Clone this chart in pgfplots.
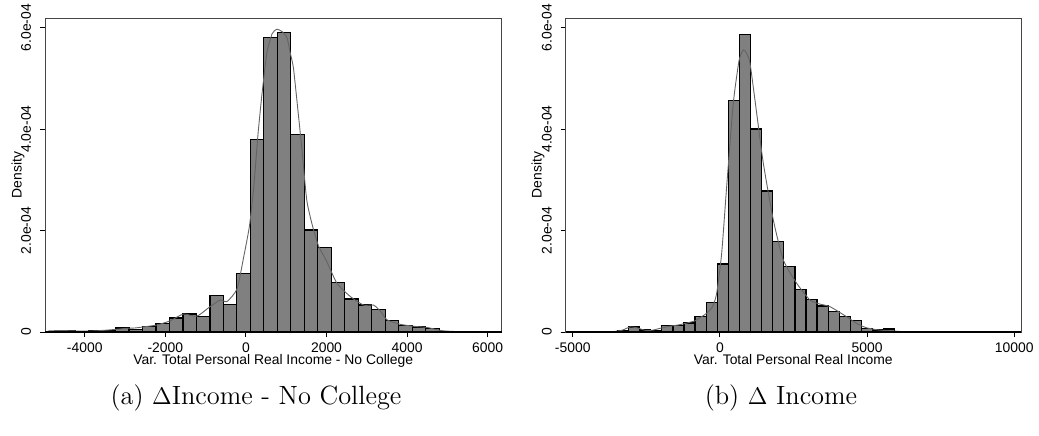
\documentclass[border=0pt]{standalone}
\usepackage{fontspec}
\setmainfont{Latin Modern Roman}
\newfontfamily\statafont{Liberation Sans}
\usepackage{pgfplots}
\usepackage{pgfplotstable}
\pgfplotsset{compat=1.18}

\definecolor{barfill}{RGB}{128,128,128}
\definecolor{kdens}{RGB}{100,100,100}
\definecolor{frame}{RGB}{70,70,70}

% histogram bins: left edge, density (last row closes the final bin)
\pgfplotstableread{
x      d
-4915  5e-7
-4580  3.3e-6
-4245  5e-7
-3910  2.0e-6
-3575  2.0e-6
-3240  7.9e-6
-2905  4.6e-6
-2570  1.05e-5
-2235  1.64e-5
-1900  2.76e-5
-1565  3.55e-5
-1230  3.00e-5
-895   7.16e-5
-560   5.40e-5
-225   1.16e-4
110    3.79e-4
445    5.81e-4
780    5.90e-4
1115   3.90e-4
1450   2.01e-4
1785   1.66e-4
2120   9.7e-5
2455   6.5e-5
2790   5.3e-5
3125   4.5e-5
3460   2.2e-5
3795   1.3e-5
4130   1.0e-5
4465   6.5e-6
4800   6.5e-6
}\histnocollege

% kernel density estimate
\pgfplotstableread{
x      d
-4915  2e-6
-4600  3e-6
-4200  2e-6
-3800  2e-6
-3400  4e-6
-3000  7e-6
-2750  8e-6
-2450  1.1e-5
-2200  1.4e-5
-1880  2.2e-5
-1550  3.55e-5
-1220  3.1e-5
-890   5.0e-5
-640   6.3e-5
-470   6.0e-5
-220   8.5e-5
-50    1.5e-4
90     2.1e-4
200    2.9e-4
300    3.9e-4
400    4.7e-4
520    5.5e-4
650    5.88e-4
770    5.97e-4
900    5.92e-4
1020   5.8e-4
1100   5.5e-4
1180   5.2e-4
1300   4.3e-4
1390   3.6e-4
1510   2.6e-4
1650   2.1e-4
1800   1.7e-4
2000   1.4e-4
2260   9.6e-5
2590   7.0e-5
2920   5.3e-5
3170   5.3e-5
3350   4.0e-5
3500   2.4e-5
3840   1.5e-5
4200   1.1e-5
4500   9e-6
4830   3e-6
5200   1e-6
6340   0
}\kdnocollege

\pgfplotstableread{
x      d
-4991  5e-7
-4614  5e-7
-4237  5e-7
-3860  1e-6
-3483  3e-6
-3106  1.0e-5
-2729  4e-6
-2352  3.5e-6
-1975  1.25e-5
-1598  1.25e-5
-1221  1.8e-5
-844   3.0e-5
-467   5.8e-5
-90    1.34e-4
287    4.57e-4
664    5.87e-4
1041   4.00e-4
1418   2.78e-4
1795   1.78e-4
2172   1.29e-4
2549   8.4e-5
2926   6.45e-5
3303   5.1e-5
3680   4.05e-5
4057   3.0e-5
4434   2.2e-5
4811   7e-6
5188   4e-6
5565   6e-6
5942   6e-6
}\histall

\pgfplotstableread{
x      d
-5238  0
-4500  5e-7
-3600  1e-6
-3300  4e-6
-3050  1.0e-5
-2800  8e-6
-2550  3.5e-6
-2300  3.5e-6
-2050  7e-6
-1750  1.1e-5
-1400  1.4e-5
-1100  1.8e-5
-850   2.2e-5
-600   3.1e-5
-450   3.7e-5
-250   5.0e-5
-110   7.6e-5
60     1.55e-4
230    2.87e-4
455    4.51e-4
650    5.35e-4
794    5.56e-4
900    5.5e-4
1022   5.30e-4
1250   4.31e-4
1474   3.33e-4
1814   2.21e-4
2154   1.42e-4
2609   9.6e-5
3060   6.3e-5
3400   5.5e-5
3740   5.0e-5
4307   3.0e-5
4700   1.5e-5
5000   8e-6
5400   4e-6
5900   2e-6
6500   5e-7
10228  0
}\kdall

\pgfplotsset{
  statahist/.style={
    scale only axis,
    height=157pt,
    ymin=0, ymax=6.19e-4,
    axis line style={draw=frame, line width=0.45pt},
    tick align=outside,
    xtick pos=bottom, ytick pos=left,
    major tick length=2.5pt,
    tick style={black, line width=0.45pt},
    ytick={0,2e-4,4e-4,6e-4},
    yticklabels={0,2.0e-04,4.0e-04,6.0e-04},
    scaled x ticks=false, scaled y ticks=false,
    ticklabel style={font=\statafont\fontsize{6.95}{8}\selectfont},
    yticklabel style={rotate=90, anchor=south, inner sep=0pt},
    xticklabel style={anchor=north, inner sep=0pt},
    xticklabel shift=2.5pt,
    yticklabel shift=4.25pt,
    label style={font=\statafont\fontsize{6.95}{8}\selectfont, inner sep=0pt},
    ylabel={Density},
    xlabel style={at={(axis description cs:0.5,0)}, anchor=base, yshift=-16.25pt},
    clip=false,
  },
  histbars/.style={ybar interval, fill=barfill, draw=black, line width=0.65pt},
  kdline/.style={kdens, line width=0.45pt, smooth, tension=0.35},
}

\begin{document}
\begin{tikzpicture}
\path[use as bounding box] (0,0) rectangle (519.5pt,-217.5pt);

\begin{axis}[statahist,
  at={(22.5pt,-166pt)}, anchor=south west, width=228.25pt,
  xmin=-4986, xmax=6343,
  xtick={-4000,-2000,0,2000,4000,6000},
  xticklabels={-4000,-2000,0,2000,4000,6000},
  xlabel={Var. Total Personal Real Income - No College},
  ylabel style={at={(axis description cs:-0.051,0.5)}, anchor=base},
]
\addplot[histbars] table[x=x, y=d] {\histnocollege};
\addplot[kdline] table[x=x, y=d] {\kdnocollege};
\draw[black, line width=0.7pt] (rel axis cs:0,0) -- (rel axis cs:1,0);
\end{axis}

\begin{axis}[statahist,
  at={(282.85pt,-166pt)}, anchor=south west, width=227.65pt,
  xmin=-5238, xmax=10228,
  xtick={-5000,0,5000,10000},
  xticklabels={-5000,0,5000,10000},
  xlabel={Var. Total Personal Real Income},
  ylabel style={at={(axis description cs:-0.0527,0.5)}, anchor=base},
]
\addplot[histbars] table[x=x, y=d] {\histall};
\addplot[kdline] table[x=x, y=d] {\kdall};
\draw[black, line width=0.7pt] (rel axis cs:0,0) -- (rel axis cs:1,0);
\end{axis}

\node[anchor=base, inner sep=0pt, font=\fontsize{13.2}{16}\selectfont] at (128pt,-202pt) {(a) $\Delta$Income - No College};
\node[anchor=base, inner sep=0pt, font=\fontsize{13.2}{16}\selectfont] at (390.5pt,-202pt) {(b) $\Delta$ Income};
\end{tikzpicture}
\end{document}
